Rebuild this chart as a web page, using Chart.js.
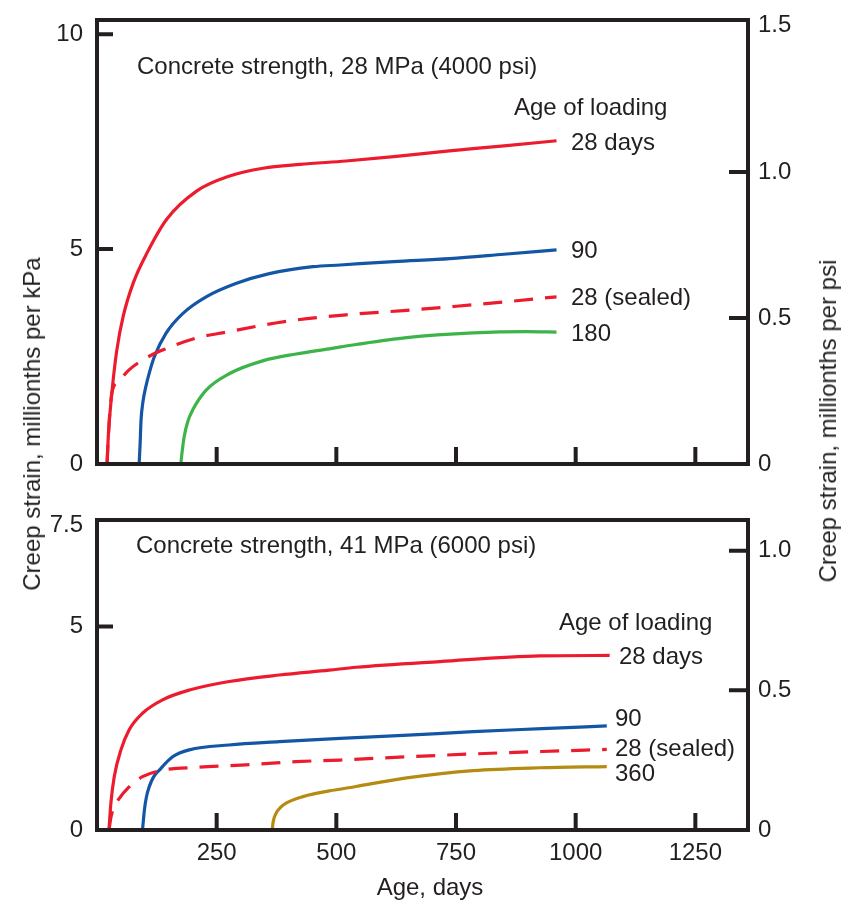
<!DOCTYPE html>
<html>
<head>
<meta charset="utf-8">
<script src="https://cdn.jsdelivr.net/npm/chart.js@4.4.1/dist/chart.umd.min.js"></script>
<style>
  body { margin: 0; background: #fff; }
  #wrap { position: relative; width: 844px; height: 903px; overflow: hidden; }
  canvas { position: absolute; left: 0; }
  #top { top: 0; }
  #bottom { top: 480px; }
  .lbl { position: absolute; font: 24px "Liberation Sans", Arial, sans-serif; color: #231f20;
         line-height: 1; white-space: nowrap; transform: translateY(-50%); }
  .ct { transform: translate(-50%, -50%); }
  .vt { transform: translate(-50%, -50%) rotate(-90deg); }
</style>
</head>
<body>
<div id="wrap">
  <canvas id="top" width="844" height="480"></canvas>
  <canvas id="bottom" width="844" height="423"></canvas>

  <div class="lbl" style="left:137px; top:66px">Concrete strength, 28 MPa (4000 psi)</div>
  <div class="lbl" style="left:514px; top:107px">Age of loading</div>
  <div class="lbl" style="left:571px; top:142px">28 days</div>
  <div class="lbl" style="left:571px; top:250px">90</div>
  <div class="lbl" style="left:571px; top:297px">28 (sealed)</div>
  <div class="lbl" style="left:571px; top:333px">180</div>

  <div class="lbl" style="left:136px; top:545px">Concrete strength, 41 MPa (6000 psi)</div>
  <div class="lbl" style="left:559px; top:622px">Age of loading</div>
  <div class="lbl" style="left:619px; top:656px">28 days</div>
  <div class="lbl" style="left:615px; top:718px">90</div>
  <div class="lbl" style="left:615px; top:748px">28 (sealed)</div>
  <div class="lbl" style="left:615px; top:773px">360</div>

  <div class="lbl ct" style="left:430px; top:887px">Age, days</div>
  <div class="lbl vt" style="left:32px; top:424px">Creep strain, millionths per kPa</div>
  <div class="lbl vt" style="left:828px; top:421px">Creep strain, millionths per psi</div>
</div>

<script>
// colours
const INK = '#231f20';
const RED = '#ec1c2e';
const BLUE = '#1456a6';
const GREEN = '#3db449';
const GOLD = '#b58b12';
const FONT = { family: '"Liberation Sans", Arial, sans-serif', size: 24 };

// x axis (age, days)
const xTicks = [250, 500, 750, 1000, 1250];
const X_MAX = 1360;

// top panel: 28 MPa (4000 psi)
const topLeftTicks = [0, 5, 10];
const topRightTicks = [0, 0.5, 1.0, 1.5];

const top28Days = [21, 24, 31, 41, 55, 76, 104, 146, 208, 277, 347, 424, 520, 620, 731, 850, 960];
const top28Vals = [0, 0.72, 1.65, 2.62, 3.45, 4.22, 4.9, 5.7, 6.35, 6.7, 6.88, 6.97, 7.05, 7.15, 7.28, 7.4, 7.52];

const top90Days = [88, 90, 92, 96, 102, 110, 120, 144, 179, 228, 290, 360, 451, 508, 620, 737, 850, 960];
const top90Vals = [0, 0.45, 1.02, 1.45, 1.8, 2.15, 2.5, 3.04, 3.5, 3.89, 4.2, 4.43, 4.59, 4.63, 4.71, 4.78, 4.88, 4.98];

const topSealedDays = [21, 24, 31, 45, 67, 100, 137, 207, 276, 346, 416, 520, 640, 751, 860, 960];
const topSealedVals = [0, 0.72, 1.65, 1.92, 2.19, 2.45, 2.65, 2.93, 3.08, 3.23, 3.35, 3.47, 3.57, 3.67, 3.78, 3.89];

const top180Days = [175, 178, 182, 190, 200, 228, 276, 346, 416, 485, 541, 647, 786, 898, 960];
const top180Vals = [0, 0.3, 0.63, 1.0, 1.26, 1.72, 2.1, 2.4, 2.56, 2.68, 2.78, 2.94, 3.05, 3.08, 3.07];

// bottom panel: 41 MPa (6000 psi)
const botLeftTicks = [0, 5, 7.5];
const botRightTicks = [0, 0.5, 1.0];

const bot28Days = [25, 29, 36, 50, 67, 95, 137, 193, 276, 381, 485, 541, 716, 925, 1071];
const bot28Vals = [0, 0.66, 1.31, 1.97, 2.46, 2.87, 3.2, 3.44, 3.65, 3.81, 3.93, 4.0, 4.14, 4.28, 4.29];

const bot90Days = [95, 97, 99, 103, 109, 118, 130, 158, 193, 276, 381, 508, 650, 786, 930, 1065];
const bot90Vals = [0, 0.25, 0.49, 0.8, 1.06, 1.3, 1.47, 1.8, 1.97, 2.09, 2.17, 2.25, 2.33, 2.42, 2.49, 2.56];

const botSealedDays = [25, 29, 33, 45, 67, 95, 137, 207, 311, 416, 508, 650, 786, 930, 1065];
const botSealedVals = [0, 0.3, 0.49, 0.75, 1.06, 1.31, 1.47, 1.54, 1.6, 1.68, 1.72, 1.8, 1.87, 1.93, 1.98];

const bot360Days = [366, 368, 374, 384, 395, 430, 485, 541, 647, 786, 925, 1065];
const bot360Vals = [0, 0.2, 0.41, 0.56, 0.66, 0.82, 0.96, 1.07, 1.28, 1.46, 1.53, 1.56];

function series(days, vals) {
  return days.map((d, i) => ({ x: d, y: vals[i] }));
}

function line(days, vals, color, dashed) {
  return {
    data: series(days, vals),
    borderColor: color,
    borderWidth: 3.2,
    borderDash: dashed ? [19, 12] : [],
    fill: false,
    yAxisID: 'y'
  };
}

// frame and inward tick marks
const frameTicks = {
  id: 'frameTicks',
  afterDatasetsDraw(chart) {
    const { ctx, chartArea: a, scales } = chart;
    ctx.save();
    ctx.strokeStyle = INK;
    ctx.lineWidth = 4;
    ctx.beginPath();
    scales.x.ticks.forEach(t => {
      const px = scales.x.getPixelForValue(t.value);
      ctx.moveTo(px, a.bottom);
      ctx.lineTo(px, a.bottom - 17);
    });
    scales.y.ticks.forEach(t => {
      const py = scales.y.getPixelForValue(t.value);
      if (py < a.top + 8 || py > a.bottom - 8) return;
      ctx.moveTo(a.left, py);
      ctx.lineTo(a.left + 16, py);
    });
    scales.y1.ticks.forEach(t => {
      const py = scales.y1.getPixelForValue(t.value);
      if (py < a.top + 8 || py > a.bottom - 8) return;
      ctx.moveTo(a.right, py);
      ctx.lineTo(a.right - 19, py);
    });
    ctx.stroke();
    ctx.strokeRect(a.left, a.top, a.width, a.height);
    ctx.restore();
  }
};

function panelOptions(p) {
  const noGrid = { display: false, drawTicks: false };
  // keep the label overhang from pushing the plot area around
  const fixV = w => s => { s.width = w; s.paddingTop = 0; s.paddingBottom = 0; };
  return {
    responsive: false,
    animation: false,
    devicePixelRatio: 1,
    layout: { padding: { top: p.topPad } },
    plugins: { legend: { display: false }, tooltip: { enabled: false } },
    elements: { point: { radius: 0 }, line: { cubicInterpolationMode: 'monotone' } },
    scales: {
      x: {
        type: 'linear', min: 0, max: X_MAX,
        grid: noGrid, border: { display: false },
        ticks: { display: p.showX, padding: 9, autoSkip: false, maxRotation: 0,
                 color: INK, font: FONT, callback: v => String(v) },
        afterBuildTicks: s => { s.ticks = xTicks.map(v => ({ value: v })); },
        afterFit: s => { s.height = p.xHeight; s.paddingLeft = 0; s.paddingRight = 0; }
      },
      y: {
        position: 'left', min: 0, max: p.yMax,
        grid: noGrid, border: { display: false },
        ticks: { padding: 14, color: INK, font: FONT, callback: v => String(v) },
        afterBuildTicks: s => { s.ticks = p.yTicks.map(v => ({ value: v })); },
        afterFit: fixV(97)
      },
      y1: {
        position: 'right', min: 0, max: p.rMax,
        grid: noGrid, border: { display: false },
        ticks: { padding: 10, color: INK, font: FONT,
                 callback: v => (v === 0 ? '0' : v.toFixed(1)) },
        afterBuildTicks: s => { s.ticks = p.rTicks.map(v => ({ value: v })); },
        afterFit: fixV(96)
      }
    }
  };
}

new Chart(document.getElementById('top'), {
  type: 'line',
  data: {
    datasets: [
      line(top28Days, top28Vals, RED, false),
      line(topSealedDays, topSealedVals, RED, true),
      line(top90Days, top90Vals, BLUE, false),
      line(top180Days, top180Vals, GREEN, false)
    ]
  },
  options: panelOptions({ topPad: 20, showX: false, xHeight: 16,
                          yMax: 10.33, yTicks: topLeftTicks, rMax: 1.52, rTicks: topRightTicks }),
  plugins: [frameTicks]
});

new Chart(document.getElementById('bottom'), {
  type: 'line',
  data: {
    datasets: [
      line(bot28Days, bot28Vals, RED, false),
      line(botSealedDays, botSealedVals, RED, true),
      line(bot90Days, bot90Vals, BLUE, false),
      line(bot360Days, bot360Vals, GOLD, false)
    ]
  },
  options: panelOptions({ topPad: 40, showX: true, xHeight: 73,
                          yMax: 7.62, yTicks: botLeftTicks, rMax: 1.11, rTicks: botRightTicks }),
  plugins: [frameTicks]
});
</script>
</body>
</html>
